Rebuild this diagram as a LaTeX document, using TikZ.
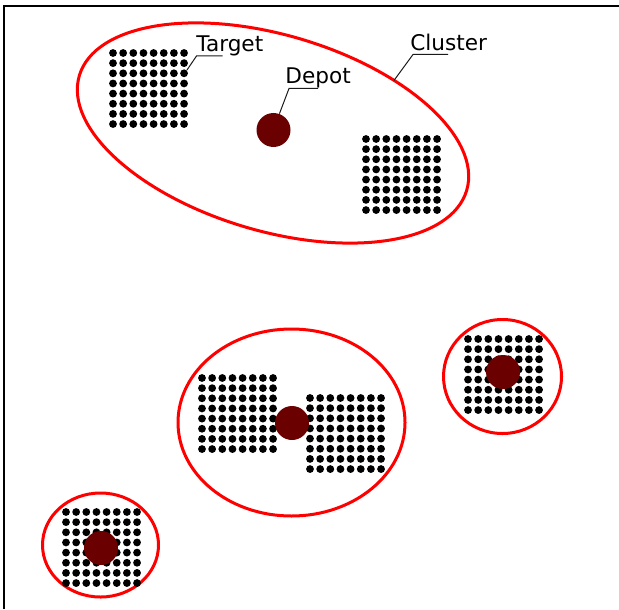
\documentclass[tikz,border=0pt]{standalone}
\usepackage{fontspec}
\setmainfont{DejaVu Sans}
\usetikzlibrary{positioning,shapes.geometric}
\definecolor{cred}{HTML}{FF0000}
\definecolor{cdepot}{HTML}{6B0000}
\definecolor{ink}{HTML}{1A1A1A}

\begin{document}
\begin{tikzpicture}[x=0.5pt,y=-0.5pt,
                    clu/.style={ellipse,draw=cred,line width=1.5pt,inner sep=0pt,outer sep=0pt},
                    dep/.style={circle,fill=cdepot,inner sep=0pt,minimum size=17pt},
                    dot/.style={fill=black},
                    lab/.style={font=\fontsize{10.8}{12}\selectfont,color=black,anchor=base west,inner sep=0pt},
                    ldr/.style={draw=ink,line width=0.5pt}]
  \useasboundingbox (0,0) rectangle (619,609);
  \draw[black,line width=0.75pt] (4,609) -- (4,6) -- (619,6);
  % clusters
  \node[clu,rotate=-16.5,minimum width=202pt,minimum height=98pt] (clu1) at (273,133) {};
  \node[clu,minimum width=113.5pt,minimum height=93.5pt] (clu2) at (291.5,422.5) {};
  \node[clu,minimum width=59pt,minimum height=57pt] (clu3) at (502.5,376.5) {};
  \node[clu,minimum width=58pt,minimum height=52pt] (clu4) at (100.5,545) {};
  % targets
  \foreach \gx/\gy in {113/53,366/139,202/378,310/398,468/339,66/512} {
    \foreach \i in {0,...,7}
      \foreach \j in {0,...,7}
        \fill[dot] (\gx+10.15*\i,\gy+10.15*\j) circle[radius=3.9];
  }
  % depots
  \node[dep] (dep1) at (273.5,130) {};
  \node[dep] (dep2) at (292,423) {};
  \node[dep] (dep3) at (503,372) {};
  \node[dep] (dep4) at (101,548) {};
  % labels
  \node[lab] (tlab) at (196,52) {Target};
  \node[lab] (dlab) at (285,84) {Depot};
  \node[lab] (clab) at (410,51) {Cluster};
  \coordinate (tgt) at (187,70);
  \coordinate (tknee) at (196.5,56);
  \coordinate (dknee) at (289,88.5);
  \coordinate (cknee) at (413,54.5);
  \draw[ldr] (tgt) -- (tknee) -- ++(26,0);
  \draw[ldr] (dep1.70) -- (dknee) -- ++(29,0);
  \draw[ldr] (clu1.40) -- (cknee) -- ++(35,0);
\end{tikzpicture}
\end{document}
